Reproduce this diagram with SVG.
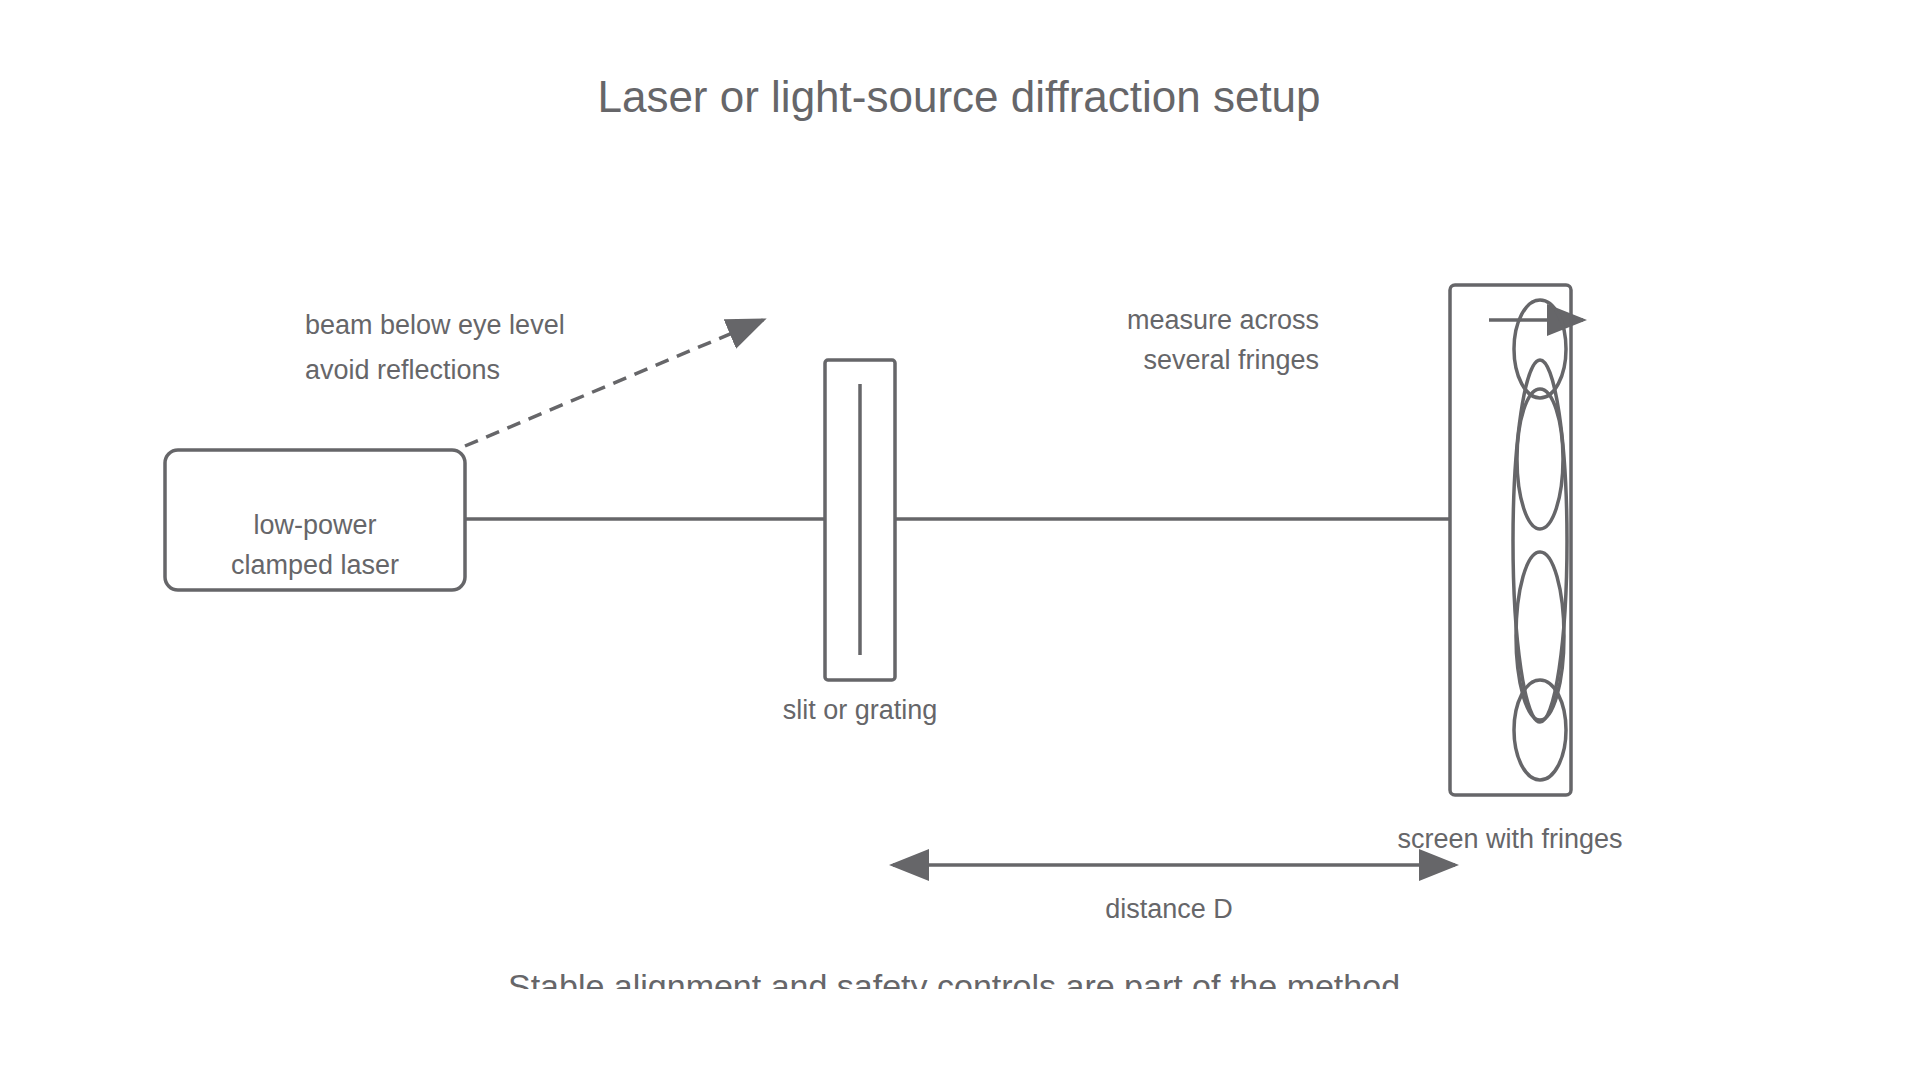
<svg xmlns="http://www.w3.org/2000/svg" width="1920" height="1080" viewBox="0 0 1920 1080">
<style>
text{font-family:"Liberation Sans",Arial,sans-serif;fill:#666669}
.s{fill:none;stroke:#666669;stroke-width:3.5}
.l{font-size:27px}
</style>
<defs>
<marker id="a" viewBox="0 0 10 10" refX="9" refY="5" markerWidth="10" markerHeight="10" markerUnits="userSpaceOnUse" orient="auto-start-reverse"><path d="M0,0L10,5L0,10z" fill="#666669"/></marker>
<marker id="b" viewBox="0 0 10 10" refX="9" refY="5" markerWidth="40" markerHeight="40" markerUnits="userSpaceOnUse" orient="auto-start-reverse"><path d="M0,1L10,5L0,9z" fill="#666669"/></marker>
<clipPath id="c"><rect x="0" y="0" width="1920" height="989"/></clipPath>
</defs>
<rect width="1920" height="1080" fill="#fff"/>
<text x="959" y="112" font-size="44" text-anchor="middle">Laser or light-source diffraction setup</text>
<g id="connectors">
<line class="s" x1="465" y1="519" x2="824" y2="519"/>
<line class="s" x1="895" y1="519" x2="1450" y2="519"/>
<line class="s" x1="465" y1="446" x2="763" y2="320" stroke-dasharray="14,9" marker-end="url(#b)"/>
<line class="s" x1="1489" y1="320" x2="1583" y2="320" stroke-width="2" marker-end="url(#b)"/>
<line class="s" x1="893" y1="865" x2="1455" y2="865" stroke-width="2.5" marker-start="url(#b)" marker-end="url(#b)"/>
</g>
<g id="laser">
<rect class="s" x="165" y="450" width="300" height="140" rx="13"/>
<text class="l" x="315" y="534" text-anchor="middle">low-power</text>
<text class="l" x="315" y="574" text-anchor="middle">clamped laser</text>
</g>
<g id="slit">
<rect class="s" x="825" y="360" width="70" height="320" rx="3"/>
<line class="s" x1="860" y1="384" x2="860" y2="655" stroke-width="2"/>
<text class="l" x="860" y="719" text-anchor="middle">slit or grating</text>
</g>
<g id="screen">
<rect class="s" x="1450" y="285" width="121" height="510" rx="5"/>
<ellipse class="s" cx="1540" cy="349" rx="26" ry="49"/>
<ellipse class="s" cx="1540" cy="541" rx="27" ry="181"/>
<ellipse class="s" cx="1540" cy="459" rx="23" ry="70"/>
<ellipse class="s" cx="1540" cy="636" rx="24" ry="84"/>
<ellipse class="s" cx="1540" cy="730" rx="26" ry="50"/>
<text class="l" x="1510" y="848" text-anchor="middle">screen with fringes</text>
</g>
<g id="labels">
<text class="l" x="305" y="334">beam below eye level</text>
<text class="l" x="305" y="379">avoid reflections</text>
<text class="l" x="1319" y="329" text-anchor="end">measure across</text>
<text class="l" x="1319" y="369" text-anchor="end">several fringes</text>
<text class="l" x="1169" y="918" text-anchor="middle">distance D</text>
<text x="954" y="998" font-size="34" text-anchor="middle" clip-path="url(#c)">Stable alignment and safety controls are part of the method</text>
</g>
</svg>
